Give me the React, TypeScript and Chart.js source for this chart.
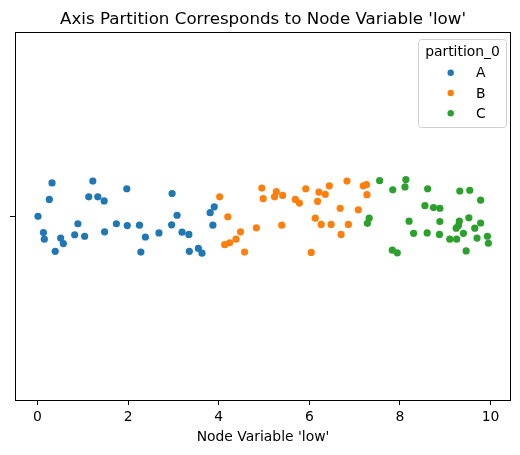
import React, { useEffect, useRef } from "react";
import { Chart, registerables } from "chart.js";

Chart.register(...registerables);

const TITLE = "Axis Partition Corresponds to Node Variable 'low'";
const X_LABEL = "Node Variable 'low'";
const LEGEND_TITLE = "partition_0";
const X_TICKS = [0, 2, 4, 6, 8, 10];

const GROUPS = ["A", "B", "C"];
const COLORS = ["#1f77b4", "#ff7f0e", "#2ca02c"];

// value of 'low' per node, and the strip jitter offset of each point
const A_LOW = [0.01, 0.13, 0.15, 0.32, 0.26, 0.39, 0.51, 0.57, 0.82, 0.89, 1.04, 1.13, 1.22, 1.33, 1.47, 1.48, 1.74, 1.97, 1.98, 2.25, 2.38, 2.28, 2.68, 2.97, 2.96, 3.08, 3.19, 3.34, 3.35, 3.55, 3.63, 3.81, 3.9, 3.87];
const A_JITTER = [-0.001, -0.045, -0.063, 0.09, 0.045, -0.096, -0.06, -0.075, -0.051, -0.021, -0.055, 0.052, 0.095, 0.052, 0.041, -0.043, -0.021, 0.074, -0.026, -0.025, -0.057, -0.098, -0.046, 0.061, -0.024, 0.002, -0.044, -0.05, -0.096, -0.088, -0.101, 0.009, 0.025, -0.025];

const B_LOW = [4.02, 4.2, 4.13, 4.24, 4.38, 4.48, 4.57, 4.83, 4.95, 4.98, 5.27, 5.23, 5.41, 5.39, 5.69, 5.78, 5.92, 6.04, 6.13, 6.21, 6.18, 6.26, 6.35, 6.44, 6.48, 6.68, 6.7, 6.83, 6.86, 7.08, 7.19, 7.26, 7.27];
const B_JITTER = [0.052, -0.002, -0.078, -0.073, -0.063, -0.043, -0.098, -0.032, 0.076, 0.047, 0.066, 0.052, 0.056, -0.025, 0.045, 0.035, 0.074, -0.099, -0.006, 0.065, 0.04, -0.023, 0.059, 0.082, -0.023, 0.021, -0.05, 0.095, -0.023, 0.017, 0.082, 0.085, 0.058];

const C_LOW = [7.55, 7.32, 7.28, 7.84, 7.83, 7.94, 8.11, 8.13, 8.2, 8.3, 8.61, 8.55, 8.6, 8.74, 8.88, 8.88, 8.87, 9.1, 9.25, 9.32, 9.31, 9.29, 9.24, 9.4, 9.46, 9.54, 9.52, 9.65, 9.78, 9.78, 9.7, 9.93, 9.95];
const C_JITTER = [0.096, -0.006, -0.02, 0.071, -0.093, -0.1, 0.079, 0.099, -0.014, -0.047, 0.074, 0.028, -0.046, 0.023, 0.021, -0.015, -0.05, -0.063, -0.063, 0.068, -0.014, -0.026, -0.033, -0.047, -0.095, 0.07, -0.005, -0.033, 0.043, -0.019, -0.06, -0.055, -0.074];

const FONT = "'DejaVu Sans', sans-serif";

const toPoints = (xs: number[], js: number[]) => xs.map((x, i) => ({ x, y: js[i] }));

// Title, axis label, frame and legend box in the matplotlib style
const decorations = {
  id: "decorations",
  afterDraw(chart: any) {
    const { ctx, chartArea } = chart;
    const { left, right, top, bottom } = chartArea;
    ctx.save();

    // frame
    ctx.strokeStyle = "#000";
    ctx.lineWidth = 1;
    ctx.strokeRect(Math.round(left) + 0.5, Math.round(top) + 0.5, Math.round(right - left) - 1, Math.round(bottom - top));

    // title
    ctx.fillStyle = "#000";
    ctx.textAlign = "center";
    ctx.textBaseline = "alphabetic";
    ctx.font = `16.7px ${FONT}`;
    ctx.fillText(TITLE, (left + right) / 2, top - 8);

    // x axis label
    ctx.font = `13.9px ${FONT}`;
    ctx.textBaseline = "middle";
    ctx.fillText(X_LABEL, (left + right) / 2, 437);

    // legend
    const bx = 418.5, by = 39.5, bw = 88, bh = 88;
    ctx.beginPath();
    ctx.roundRect(bx, by, bw, bh, 3);
    ctx.fillStyle = "rgba(255,255,255,0.8)";
    ctx.fill();
    ctx.strokeStyle = "#d0d0d0";
    ctx.lineWidth = 1;
    ctx.stroke();

    ctx.fillStyle = "#000";
    ctx.textAlign = "center";
    ctx.fillText(LEGEND_TITLE, bx + bw / 2, 52);
    GROUPS.forEach((g, i) => {
      const y = 72.7 + i * 20.3;
      ctx.beginPath();
      ctx.arc(450.7, y, 3.2, 0, Math.PI * 2);
      ctx.fillStyle = COLORS[i];
      ctx.fill();
      ctx.fillStyle = "#000";
      ctx.textAlign = "left";
      ctx.fillText(g, 476, y + 1);
    });

    ctx.restore();
  },
};

export default function App() {
  const canvasRef = useRef<HTMLCanvasElement>(null);

  useEffect(() => {
    const canvas = canvasRef.current;
    if (!canvas) return;
    const series = [toPoints(A_LOW, A_JITTER), toPoints(B_LOW, B_JITTER), toPoints(C_LOW, C_JITTER)];
    const chart = new Chart(canvas, {
      type: "scatter",
      data: {
        datasets: GROUPS.map((g, i) => ({
          label: g,
          data: series[i],
          backgroundColor: COLORS[i],
          borderWidth: 0,
          pointRadius: 3.6,
          pointHoverRadius: 3.6,
        })),
      },
      options: {
        responsive: false,
        animation: false,
        events: [],
        layout: { padding: { top: 32, right: 9, left: 0, bottom: 0 } },
        plugins: {
          legend: { display: false },
          title: { display: false },
          tooltip: { enabled: false },
        },
        scales: {
          x: {
            type: "linear",
            min: -0.4975,
            max: 10.45,
            afterBuildTicks: (scale: any) => {
              scale.ticks = X_TICKS.map((v) => ({ value: v }));
            },
            afterFit: (scale: any) => {
              scale.height = 55;
            },
            border: { display: false },
            grid: { drawOnChartArea: false, drawTicks: true, tickLength: 5, color: "#000", lineWidth: 1 },
            ticks: {
              color: "#000",
              padding: 4,
              maxRotation: 0,
              autoSkip: false,
              font: { family: FONT, size: 13.9 },
              callback: (v: any) => String(v),
            },
          },
          y: {
            type: "linear",
            min: -0.5,
            max: 0.5,
            afterBuildTicks: (scale: any) => {
              scale.ticks = [{ value: 0 }];
            },
            afterFit: (scale: any) => {
              scale.width = 15;
            },
            border: { display: false },
            grid: { drawOnChartArea: false, drawTicks: true, tickLength: 5, color: "#000", lineWidth: 1 },
            ticks: { display: true, callback: () => "", padding: 0 },
          },
        },
      },
      plugins: [decorations],
    });
    return () => chart.destroy();
  }, []);

  return (
    <div style={{ position: "absolute", left: 0, top: 0, width: 520, height: 455, background: "#fff" }}>
      <canvas ref={canvasRef} width={520} height={455} />
    </div>
  );
}
